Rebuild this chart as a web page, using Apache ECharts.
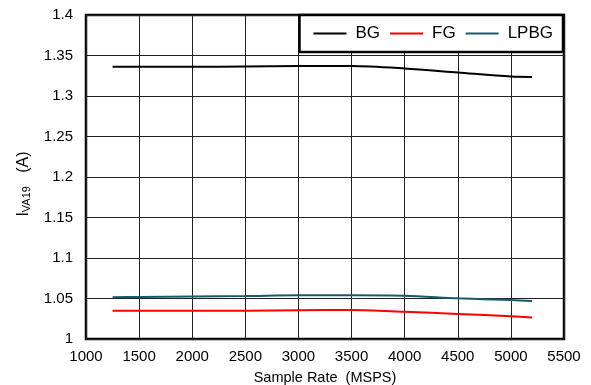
<!DOCTYPE html>
<html><head><meta charset="utf-8">
<script src="https://cdn.jsdelivr.net/npm/echarts@6/dist/echarts.min.js"></script>
<style>html,body{margin:0;padding:0;background:#fff}#c{width:591px;height:385px}</style>
</head><body><div id="c"></div>
<script>
const sampleRate = [1250, 1500, 2000, 2500, 3000, 3500, 4000, 4500, 5000, 5200];
const bg   = [1.336, 1.336, 1.336, 1.3365, 1.337, 1.337, 1.334, 1.329, 1.324, 1.3235];
const fg   = [1.035, 1.035, 1.035, 1.035, 1.0355, 1.0358, 1.0337, 1.031, 1.028, 1.0265];
const lpbg = [1.0515, 1.052, 1.0525, 1.053, 1.054, 1.054, 1.0535, 1.0502, 1.048, 1.047];
const seriesNames = ['BG', 'FG', 'LPBG'];
const seriesColors = ['#000000', '#ff0000', '#175a6c'];
const seriesData = [bg, fg, lpbg];

const chart = echarts.init(document.getElementById('c'), null, {renderer: 'canvas'});
const font = 'Liberation Sans, Arial, sans-serif';
chart.setOption({
  animation: false,
  grid: {left: 86, right: 27, top: 15, bottom: 46, outerBoundsMode: 'none', containLabel: false,
    show: true, borderColor: '#000', borderWidth: 2.5, backgroundColor: 'transparent'},
  legend: {
    data: seriesNames,
    right: 28, top: 15,
    backgroundColor: '#fff', borderColor: '#000', borderWidth: 2.5,
    padding: [10, 10, 10, 14],
    icon: 'rect', itemWidth: 33, itemHeight: 2, itemGap: 10,
    textStyle: {fontFamily: font, fontSize: 17, color: '#000', padding: [0, 0, 0, 4]}
  },
  xAxis: {
    type: 'value', min: 1000, max: 5500, interval: 500,
    axisLine: {show: false}, axisTick: {show: false},
    splitLine: {show: true, lineStyle: {color: '#222', width: 1}},
    axisLabel: {fontFamily: font, fontSize: 15, color: '#000', margin: 10,
      formatter: v => String(v)},
    name: 'Sample Rate  (MSPS)', nameLocation: 'middle', nameGap: 31,
    nameTextStyle: {fontFamily: font, fontSize: 14.5, color: '#000'}
  },
  yAxis: {
    type: 'value', min: 1, max: 1.4, interval: 0.05,
    axisLine: {show: false}, axisTick: {show: false},
    splitLine: {show: true, lineStyle: {color: '#222', width: 1}},
    axisLabel: {fontFamily: font, fontSize: 15, color: '#000', margin: 13,
      formatter: v => String(Math.round(v * 100) / 100)},
    name: '{m|I}{s|VA19}{m|   (A)}', nameLocation: 'middle', nameGap: 52, nameRotate: 90,
    nameTextStyle: {padding: [0, 14, 0, 0], rich: {
      m: {fontFamily: font, fontSize: 16, color: '#000'},
      s: {fontFamily: font, fontSize: 11, color: '#000', verticalAlign: 'bottom', padding: [7, 0, 0, 0]}
    }}
  },
  series: seriesNames.map((n, i) => ({
    name: n, type: 'line', smooth: 0.3, showSymbol: false,
    data: sampleRate.map((x, j) => [x, seriesData[i][j]]),
    lineStyle: {color: seriesColors[i], width: 2}, itemStyle: {color: seriesColors[i]}
  }))
});
</script></body></html>
